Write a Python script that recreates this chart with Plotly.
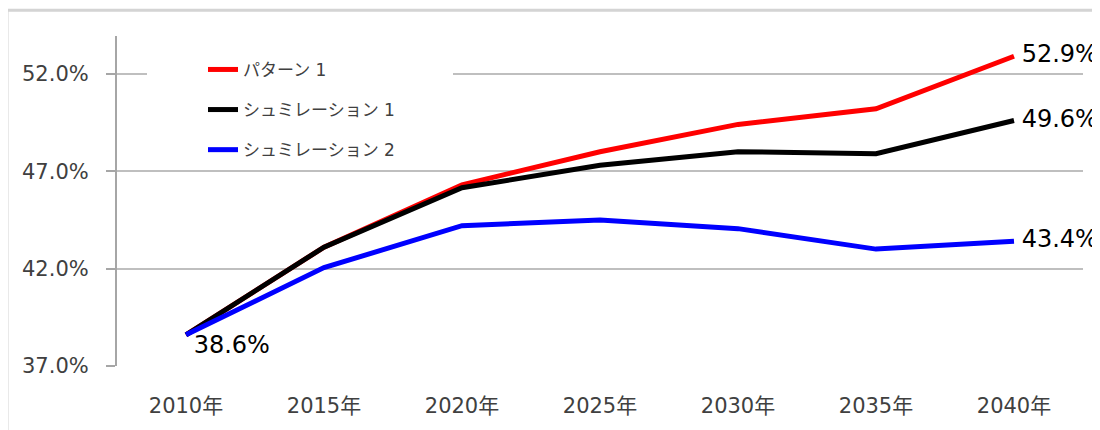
import plotly.graph_objects as go

years = ["2010年", "2015年", "2020年", "2025年", "2030年", "2035年", "2040年"]
pattern1 = [38.6, 43.1, 46.3, 48.0, 49.4, 50.2, 52.9]
sim1 = [38.6, 43.1, 46.15, 47.3, 48.0, 47.9, 49.6]
sim2 = [38.6, 42.05, 44.2, 44.5, 44.05, 43.0, 43.4]
names = ["パターン 1", "シュミレーション 1", "シュミレーション 2"]
colors = ["#FF0000", "#000000", "#0000FF"]
y_ticks = [37.0, 42.0, 47.0, 52.0]

FONT = "DejaVu Sans, Verdana, Noto Sans CJK JP"

# page body has an 8px margin; figure is offset by (8, 8)
OFF = 8
W, H = 1100 - OFF, 430 - OFF
L, R, T, B = 117 - OFF, 17, 36 - OFF, 62
PW, PH = W - L - R, H - T - B
Y0, Y1 = 37.0, 37.0 + (368 - 36) / 19.6


def label_texts(vals, first=False):
    out = []
    for i, v in enumerate(vals):
        if i == len(vals) - 1:
            out.append(f" {v:.1f}%")
        elif first and i == 0:
            out.append(f" {v:.1f}%")
        else:
            out.append("")
    return out


fig = go.Figure()
series = [pattern1, sim1, sim2]
for k, (vals, name, col) in enumerate(zip(series, names, colors)):
    txt = label_texts(vals, first=(k == 2))
    pos = ["bottom right" if (i == 0) else "middle right" for i in range(len(vals))]
    fig.add_trace(go.Scatter(
        x=years, y=vals, name=name, mode="lines+text",
        line=dict(color=col, width=5),
        text=txt, textposition=pos,
        textfont=dict(family=FONT, size=24, color="#000000"),
        cliponaxis=False, legendgroup=name,
    ))

# white cover behind legend (gridline gap)
fig.add_shape(type="rect", xref="x", yref="y",
              x0=(147 - 117) / 138 - 0.5, x1=(453 - 117) / 138 - 0.5,
              y0=51.6, y1=52.4, fillcolor="white", line=dict(width=0),
              layer="between")
# outer frame
fig.add_shape(type="rect", xref="paper", yref="paper",
              x0=(7 - 117) / PW, x1=(1106 - 117) / PW,
              y0=(368 - 445) / PH, y1=(368 - 10) / PH,
              line=dict(color="#D4D4D4", width=3), fillcolor="rgba(0,0,0,0)",
              layer="below")

fig.update_layout(
    width=W, height=H,
    margin=dict(l=L, r=R, t=T, b=B),
    paper_bgcolor="white", plot_bgcolor="white",
    font=dict(family=FONT, color="#404040"),
    legend=dict(
        x=(203 - 117) / PW, y=(368 - 52) / PH, xanchor="left", yanchor="top",
        bgcolor="rgba(255,255,255,0)", font=dict(family=FONT, size=17, color="#404040"),
        traceorder="grouped", tracegroupgap=15,
    ),
    showlegend=True,
)
fig.update_xaxes(
    range=[-0.5, 6.5], showgrid=False, zeroline=False, showline=False,
    ticks="", tickfont=dict(family=FONT, size=21, color="#404040"),
    ticklabelstandoff=25,
)
fig.update_yaxes(
    range=[Y0, Y1], tickvals=y_ticks,
    ticktext=[f"{v:.1f}%\u00a0\u00a0" for v in y_ticks],
    showgrid=True, gridcolor="#BFBFBF", gridwidth=1.5,
    zeroline=False, showline=True, linecolor="#A6A6A6", linewidth=1.5,
    ticks="outside", ticklen=9, tickcolor="#A6A6A6", tickwidth=1.5,
    tickfont=dict(family=FONT, size=21, color="#404040"),
)

fig.write_html("out.html")
